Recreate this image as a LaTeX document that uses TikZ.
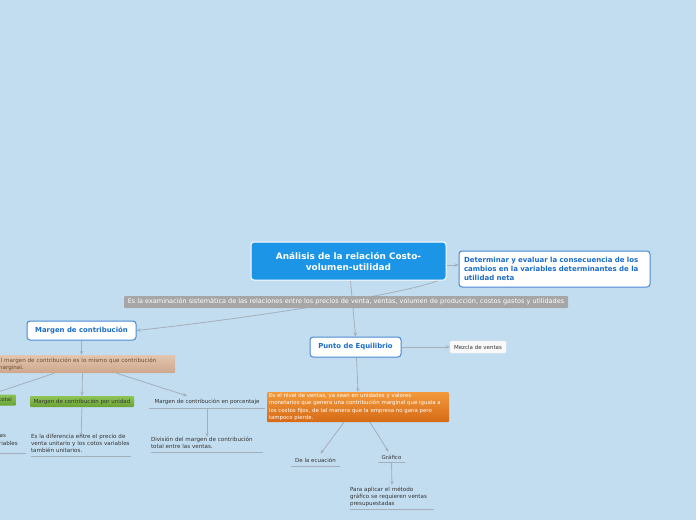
\documentclass[tikz,border=0pt]{standalone}
\usepackage{fontspec}
\setmainfont{DejaVu Sans}
\usetikzlibrary{arrows.meta,backgrounds}
\definecolor{fondo}{HTML}{C3DDF0}
\definecolor{azul}{HTML}{1C95E7}
\definecolor{azultexto}{HTML}{1A6CC8}
\definecolor{linea}{HTML}{A3AFBA}
\definecolor{gris}{HTML}{A6A6A6}
\definecolor{texto}{HTML}{333333}
\definecolor{tanarriba}{HTML}{E3C6B0}
\definecolor{tanabajo}{HTML}{CCA78C}
\definecolor{tantexto}{HTML}{6E4C36}
\definecolor{verdearriba}{HTML}{8EC456}
\definecolor{verdeabajo}{HTML}{69A236}
\definecolor{naranjaarriba}{HTML}{F39A3C}
\definecolor{naranjaabajo}{HTML}{D56A16}

\begin{document}
\begin{tikzpicture}[x=1pt,y=-1pt,
  conector/.style={draw=linea, line width=0.8pt, -{Stealth[length=4pt,width=3.5pt]}},
  subraya/.style={draw=linea, line width=0.9pt},
  tema/.style={draw=white, line width=1pt, rounded corners=3pt, fill=azul, text=white,
    font=\fontsize{8.9}{11}\selectfont\bfseries, align=center, inner sep=0pt},
  blanco/.style={draw=azultexto!80, line width=1pt, rounded corners=3pt, fill=white, text=azultexto,
    font=\fontsize{6.9}{8}\selectfont\bfseries, inner sep=0pt},
  barra/.style={fill=gris, rounded corners=1pt, text=white, font=\fontsize{6.5}{7}\selectfont, inner sep=0pt},
  nota/.style={text=texto, font=\fontsize{5.6}{7.3}\selectfont, align=left, inner sep=0pt},
  simple/.style={text=texto, font=\fontsize{5.5}{6.5}\selectfont, inner sep=0pt},
  verde/.style={simple, top color=verdearriba, bottom color=verdeabajo, rounded corners=1pt}]

\useasboundingbox (0,0) rectangle (696,520);

% tema central
\node[tema, minimum width=195pt, minimum height=38pt] (analisis) at (348.5,261)
  {Análisis de la relación Costo-\\volumen-utilidad};
\node[blanco, minimum width=191pt, minimum height=36pt, text width=181pt, align=left, font=\fontsize{7}{9}\selectfont\bfseries] (meta) at (554.5,269)
  {Determinar y evaluar la consecuencia de los\\cambios en la variables determinantes de la\\utilidad neta};
\node[barra, minimum width=444pt, minimum height=12pt] (definicion) at (346,302)
  {Es la examinación sistemática de las relaciones entre los precios de venta, ventas, volumen de producción, costos gastos y utilidades};

% ramas principales
\node[blanco, minimum width=109pt, minimum height=19pt] (margen) at (81.5,330.5) {Margen de contribución};
\node[blanco, minimum width=91pt, minimum height=20pt] (punto) at (355.5,347) {Punto de Equilibrio};
\node[simple, draw=white!85!gray, fill=white!95!gray, rounded corners=1pt, minimum width=56pt, minimum height=12pt] (mezcla) at (478,347) {Mezcla de ventas};

% margen de contribucion
\node[nota, top color=tanarriba, bottom color=tanabajo, rounded corners=1pt, anchor=west,
  text width=172pt, minimum height=18pt, inner xsep=6pt, text=tantexto] (marginal) at (-9,364)
  {El margen de contribución es lo mismo que contribución\\marginal.};
\node[verde, minimum width=88pt, minimum height=11pt] (total) at (-28,400) {Margen de contribución total};
\node[verde, minimum width=104pt, minimum height=11pt] (unidad) at (82,401.5) {Margen de contribución por unidad};
\node[simple, minimum width=116pt, minimum height=12pt] (porcentaje) at (207,402) {Margen de contribución en porcentaje};
\node[nota, text width=110pt, minimum height=26pt, anchor=south east] (dtotal) at (26,453)
  {Es la diferencia entre las ventas\\totales y el total de costos variables};
\node[nota, text width=100pt, minimum height=25pt] (dunidad) at (81,443.5)
  {Es la diferencia entre el precio de\\venta unitario y los cotos variables\\también unitarios.};
\node[nota, text width=112pt, minimum height=18pt] (dporcentaje) at (207,443)
  {División del margen de contribución\\total entre las ventas.};

% punto de equilibrio
\node[nota, top color=naranjaarriba, bottom color=naranjaabajo, rounded corners=1pt,
  text=white, text width=178pt, minimum height=30pt, inner xsep=2pt, font=\fontsize{5.4}{7.1}\selectfont] (nivel) at (358,407)
  {Es el nivel de ventas, ya sean en unidades y valores\\monetarios que genera una contribución marginal que iguala a\\los costos fijos, de tal manera que la empresa no gana pero\\tampoco pierde.};
\node[simple, minimum width=49pt, minimum height=12pt] (ecuacion) at (315.5,460) {De la ecuación};
\node[simple, minimum width=27pt, minimum height=10pt] (grafico) at (391.5,457) {Gráfico};
\node[nota, text width=84pt, minimum height=24pt] (metodo) at (392,497)
  {Para aplicar el método\\gráfico se requieren ventas\\presupuestadas};

\begin{scope}[on background layer]
% fondo
\fill[fondo] (0,0) rectangle (696,520);

% subrayados
\foreach \n in {porcentaje,dtotal,dunidad,dporcentaje,ecuacion,grafico,metodo}
  \draw[subraya] (\n.south west) -- (\n.south east);

% conectores
\draw[conector] ([yshift=-4pt]analisis.east) -- ([yshift=4pt]meta.west);
\draw[conector] ([xshift=90pt]analisis.south) .. controls (400,295) and (250,318) .. (margen.east);
\draw[conector] ([xshift=2pt]analisis.south) -- (punto.north);
\draw[conector] (punto.east) -- (mezcla.west);
\draw[conector] ([xshift=1pt]punto.south) -- (nivel.north);
\draw[conector] (margen.south) -- (marginal.north -| margen.south);
\draw[conector] ([xshift=-27pt]marginal.south -| margen.south) -- ([xshift=19pt]total.north);
\draw[conector] ([xshift=1pt]marginal.south -| margen.south) -- (unidad.north);
\draw[conector] ([xshift=35pt]marginal.south -| margen.south) -- ([xshift=-20pt]porcentaje.north);
\draw[conector] (unidad.south) -- ([yshift=-6pt]dunidad.north);
\draw[conector] (porcentaje.south) -- ([yshift=-3pt]dporcentaje.north);
\draw[conector] ([xshift=-14pt]nivel.south) -- ([xshift=5pt]ecuacion.north);
\draw[conector] ([xshift=12pt]nivel.south) -- ([xshift=-3pt]grafico.north);
\draw[conector] (grafico.south) -- (metodo.north);
\end{scope}
\end{tikzpicture}
\end{document}
